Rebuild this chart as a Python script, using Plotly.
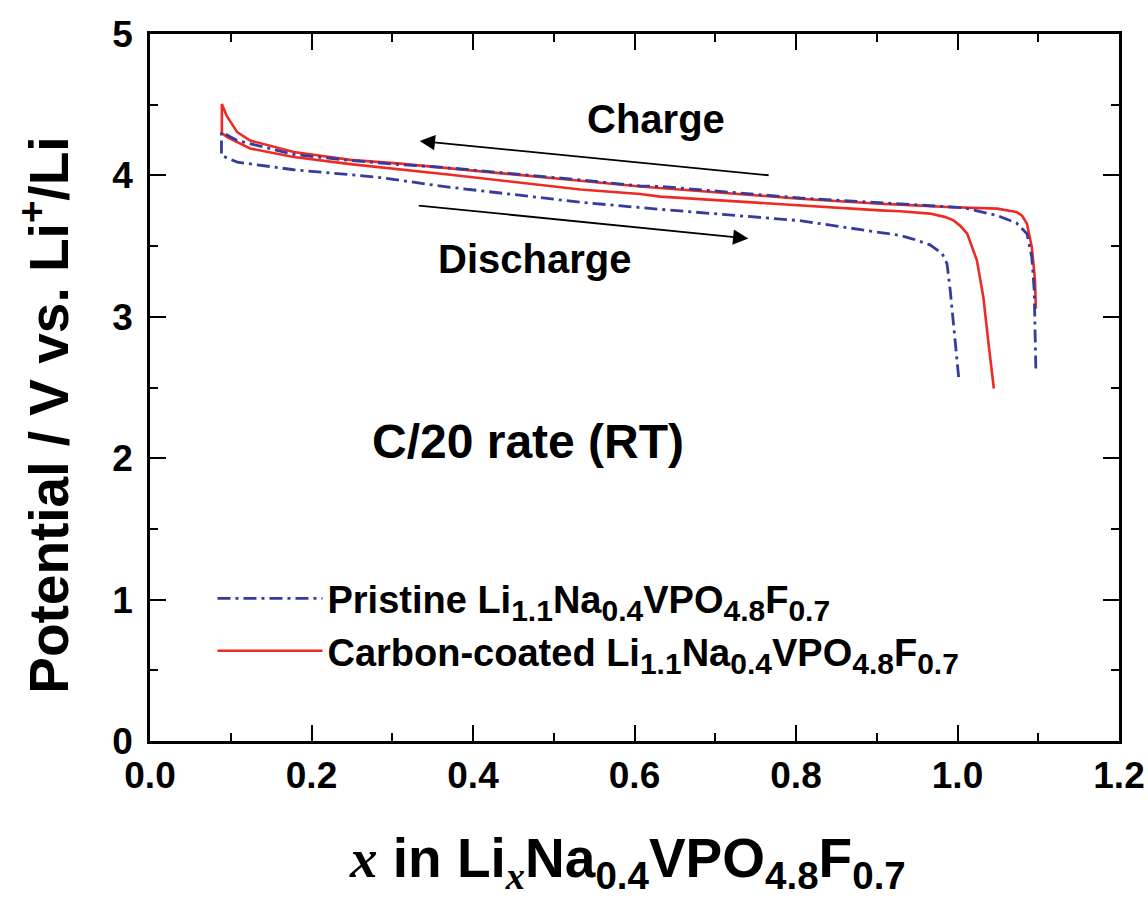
import plotly.graph_objects as go

# ---------------- data ----------------
# Pristine Li1.1Na0.4VPO4.8F0.7  (charge: high x -> low x, then discharge)
pristine_charge_x = [1.097, 1.096, 1.095, 1.092, 1.086, 1.073, 1.049, 1.007, 0.929, 0.904,
                     0.805, 0.632, 0.607, 0.533, 0.363, 0.310, 0.285, 0.248, 0.178, 0.108, 0.0885]
pristine_charge_v = [2.634, 2.905, 3.187, 3.423, 3.588, 3.663, 3.717, 3.772, 3.800, 3.804,
                     3.840, 3.922, 3.925, 3.968, 4.057, 4.076, 4.087, 4.106, 4.148, 4.247, 4.306]
pristine_dis_x = [0.0885, 0.108, 0.178, 0.248, 0.285, 0.310, 0.363, 0.533, 0.607, 0.632,
                  0.805, 0.904, 0.929, 0.945, 0.966, 0.981, 0.987, 0.991, 0.997, 1.002]
pristine_dis_v = [4.141, 4.094, 4.040, 4.005, 3.985, 3.965, 3.922, 3.810, 3.769, 3.760,
                  3.680, 3.600, 3.575, 3.550, 3.509, 3.447, 3.376, 3.187, 2.834, 2.539]

# Carbon-coated Li1.1Na0.4VPO4.8F0.7
coated_charge_x = [1.097, 1.096, 1.092, 1.086, 1.080, 1.073, 1.049, 0.987, 0.929, 0.904,
                   0.805, 0.632, 0.607, 0.533, 0.310, 0.248, 0.178, 0.124, 0.108, 0.095, 0.089]
coated_charge_v = [3.058, 3.258, 3.493, 3.659, 3.715, 3.741, 3.765, 3.776, 3.793, 3.800,
                   3.835, 3.910, 3.922, 3.962, 4.083, 4.110, 4.165, 4.247, 4.306, 4.420, 4.505]
coated_dis_x = [0.089, 0.0956, 0.124, 0.178, 0.248, 0.310, 0.372, 0.533, 0.607, 0.632,
                0.805, 0.904, 0.929, 0.966, 0.985, 0.995, 1.004, 1.012, 1.024, 1.032, 1.038, 1.045]
coated_dis_v = [4.300, 4.270, 4.190, 4.130, 4.080, 4.042, 4.005, 3.900, 3.868, 3.850,
                3.785, 3.753, 3.746, 3.730, 3.705, 3.682, 3.640, 3.588, 3.400, 3.140, 2.834, 2.493]

x_ticks = [0.0, 0.2, 0.4, 0.6, 0.8, 1.0, 1.2]
y_ticks = [0, 1, 2, 3, 4, 5]


def sub(t, px):
    return f'<sub><span style="font-size:{px}px">{t}</span></sub>'


formula = "Li" + sub("1.1", 30) + "Na" + sub("0.4", 30) + "VPO" + sub("4.8", 30) + "F" + sub("0.7", 30)
name_pristine = "Pristine " + formula
name_coated = "Carbon-coated " + formula

BLUE = "#363c9c"
RED = "#ee2a24"
FONT = "Liberation Sans, Arial, Helvetica, sans-serif"
SERIF_X = "<span style=\"font-family:'Liberation Serif','Times New Roman',serif\"><i>x</i></span>"

ML, MR, MT, MB = 149.5, 29, 33.5, 164
W, H = 1148, 905
PW, PH = W - ML - MR, H - MT - MB

fig = go.Figure()
fig.add_trace(go.Scatter(
    x=coated_charge_x + coated_dis_x, y=coated_charge_v + coated_dis_v,
    mode="lines", name=name_coated, legendrank=2,
    line=dict(color=RED, width=2.6)))
fig.add_trace(go.Scatter(
    x=pristine_charge_x + pristine_dis_x, y=pristine_charge_v + pristine_dis_v,
    mode="lines", name=name_pristine, legendrank=1,
    line=dict(color=BLUE, width=2.8, dash="13px,5px,3px,5px")))

axis_common = dict(
    showline=True, linecolor="black", linewidth=2.6, mirror="ticks",
    ticks="inside", ticklen=16, tickwidth=2, tickcolor="black",
    showgrid=False, zeroline=False, automargin=False,
    tickfont=dict(family=FONT, size=37, color="black", weight="bold"),
)

fig.update_xaxes(
    range=[0, 1.2], tickvals=x_ticks, tickformat=".1f", ticklabelstandoff=0,
    ticklabeloverflow="allow",
    minor=dict(dtick=0.1, ticks="inside", ticklen=8, tickwidth=2, tickcolor="black"),
    **axis_common)
fig.update_yaxes(
    range=[0, 5], tickvals=y_ticks, ticklabelstandoff=7,
    minor=dict(dtick=0.5, ticks="inside", ticklen=8, tickwidth=2, tickcolor="black"),
    **axis_common)

title_font = dict(family=FONT, size=55, color="black", weight="bold")
# axis titles
fig.add_annotation(xref="paper", yref="paper", x=(45 - ML) / PW, y=(H - MB - 415) / PH,
                   xanchor="center", yanchor="middle",
                   text="Potential / V vs. Li<sup>+</sup>/Li", textangle=-90,
                   showarrow=False, font=title_font)
fig.add_annotation(xref="paper", yref="paper", x=(627 - ML) / PW, y=(H - MB - 862) / PH,
                   xanchor="center", yanchor="middle",
                   text=SERIF_X + " in Li<sub>" + SERIF_X + "</sub>Na<sub>0.4</sub>VPO<sub>4.8</sub>F<sub>0.7</sub>",
                   showarrow=False, font=title_font)

ann_font = dict(family=FONT, size=40, color="black", weight="bold")
fig.add_annotation(x=0.627, y=4.40, text="Charge", showarrow=False, font=ann_font)
fig.add_annotation(x=0.476, y=3.41, text="Discharge", showarrow=False, font=ann_font)
fig.add_annotation(x=0.468, y=2.12, text="C/20 rate (RT)", showarrow=False,
                   font=dict(family=FONT, size=48, color="black", weight="bold"))
# arrows
fig.add_annotation(x=0.334, y=4.243, ax=0.768, ay=4.00, xref="x", yref="y", axref="x", ayref="y",
                   text="", showarrow=True, arrowhead=2, arrowsize=1.7, arrowwidth=1.8, arrowcolor="black")
fig.add_annotation(x=0.741, y=3.553, ax=0.331, ay=3.788, xref="x", yref="y", axref="x", ayref="y",
                   text="", showarrow=True, arrowhead=2, arrowsize=1.7, arrowwidth=1.8, arrowcolor="black")

fig.update_layout(
    width=W, height=H,
    margin=dict(l=ML, r=MR, t=MT, b=MB, autoexpand=False),
    paper_bgcolor="white", plot_bgcolor="white",
    font=dict(family=FONT, color="black"),
    showlegend=True,
    legend=dict(x=(212 - ML) / PW, y=(H - MB - 567) / PH, xanchor="left", yanchor="top",
                bgcolor="rgba(0,0,0,0)", borderwidth=0,
                font=dict(family=FONT, size=38, color="black", weight="bold"),
                itemwidth=105, tracegroupgap=0),
)

fig.write_html("out.html")
